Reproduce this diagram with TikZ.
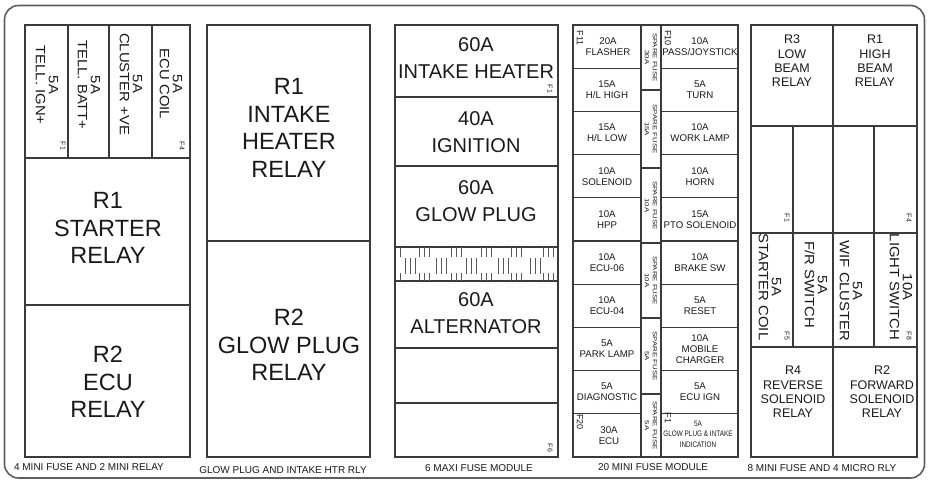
\documentclass[tikz,border=0pt]{standalone}
\usepackage{fontspec}
\setmainfont{Liberation Sans}
\newfontfamily\widefont[FakeStretch=1.3]{Liberation Sans}
\newfontfamily\fusefont[FakeStretch=1.1]{Liberation Sans}
\newfontfamily\condfont[FakeStretch=0.8]{Liberation Sans}
\definecolor{lncol}{HTML}{3A3A3A}
\definecolor{framecol}{HTML}{5E5E5E}
\definecolor{txt}{HTML}{1A1A1A}
\begin{document}
\begin{tikzpicture}[x=1pt,y=-1pt,
  ln/.style={line width=1.1pt, draw=lncol},
  tick/.style={line width=0.9pt, draw=lncol!85},
  bigtxt/.style={font=\fontsize{23.5}{27.5}\selectfont, align=center, text=txt, inner sep=0pt},
  maxitxt/.style={font=\fontsize{20}{27}\selectfont, align=center, text=txt, inner sep=0pt},
  rfuse/.style={rotate=-90, font=\fusefont\fontsize{13.5}{13}\selectfont, align=center, text=txt, inner sep=0pt},
  minitxt/.style={font=\fontsize{9.7}{11}\selectfont, align=center, text=txt, inner sep=0pt},
  condtxt/.style={font=\condfont\fontsize{8}{10.5}\selectfont, align=center, text=txt, inner sep=0pt},
  sparetxt/.style={rotate=-90, font=\widefont\fontsize{6}{8}\selectfont, align=center, text=txt, inner sep=0pt},
  fnum/.style={rotate=-90, font=\fontsize{7}{8}\selectfont, text=txt, inner sep=0pt},
  fnumb/.style={rotate=-90, font=\fontsize{9}{10}\selectfont, text=txt, inner sep=0pt},
  reltxt/.style={font=\fontsize{12.5}{14.3}\selectfont, align=center, text=txt, inner sep=0pt},
  labtxt/.style={font=\fontsize{10}{12}\selectfont, text=txt, inner sep=0pt}
]
\useasboundingbox (0,0) rectangle (928,480);
\fill[white] (0,0) rectangle (928,480);
% outer frame
\draw[line width=1.6pt, draw=framecol, rounded corners=14pt] (4.5,5.5) rectangle (924.5,478);

% ---------- Panel 1 ----------
\draw[ln] (25,25) rectangle (190,457);
\draw[ln] (25,158) -- (190,158);
\draw[ln] (25,305) -- (190,305);
\foreach \x in {68,109,152} \draw[ln] (\x,25) -- (\x,158);
\node[rfuse] (a1) at (47,85) {5A\\TELL. IGN+};
\node[rfuse] (a2) at (89,85) {5A\\TELL. BATT+};
\node[rfuse] (a3) at (131,84) {5A\\CLUSTER +VE};
\node[rfuse] (a4) at (171,84) {5A\\ECU COIL};
\node[fnum] (af1) at (63,146) {F1};
\node[fnum] (af4) at (182,146) {F4};
\node[bigtxt] (ar1) at (108,228) {R1\\STARTER\\RELAY};
\node[bigtxt] (ar2) at (108,382) {R2\\ECU\\RELAY};
\node[labtxt] (alab) at (89,467) {4 MINI FUSE AND 2 MINI RELAY};

% ---------- Panel 2 ----------
\draw[ln] (207,25) rectangle (370,457);
\draw[ln] (207,241) -- (370,241);
\node[bigtxt] (br1) at (289,128) {R1\\INTAKE\\HEATER\\RELAY};
\node[bigtxt] (br2) at (289,345) {R2\\GLOW PLUG\\RELAY};
\node[labtxt] (blab) at (283,470) {GLOW PLUG AND INTAKE HTR RLY};

% ---------- Panel 3 ----------
\draw[ln] (395,25) rectangle (558,457);
\foreach \y in {97,166,247,281,348,403} \draw[ln] (395,\y) -- (558,\y);
\foreach \x in {400} {\draw[tick] (\x,247) -- (\x,257); \draw[tick] (\x,273) -- (\x,281);}
\foreach \g in {419.3,451.7,481.7,511.7,543.3} \foreach \d in {0,5,10} {
  \draw[tick] (\g+\d,247) -- (\g+\d,257);
  \draw[tick] (\g+\d,273) -- (\g+\d,281);}
\foreach \g in {405,436.7,466.7,498.3,530} \foreach \d in {0,5,10}
  \draw[tick] (\g+\d,258) -- (\g+\d,274);
\node[maxitxt] (c1) at (476,58) {60A\\INTAKE HEATER};
\node[maxitxt] (c2) at (476,132) {40A\\IGNITION};
\node[maxitxt] (c3) at (476,201) {60A\\GLOW PLUG};
\node[maxitxt] (c4) at (476,313) {60A\\ALTERNATOR};
\node[fnum] (cf1) at (550,89) {F1};
\node[fnum] (cf6) at (550,448) {F6};
\node[labtxt] (clab) at (479,468) {6 MAXI FUSE MODULE};

% ---------- Panel 4 ----------
\draw[ln] (573,25) rectangle (738,457);
\draw[ln] (641,25) -- (641,457);
\draw[ln] (661,25) -- (661,457);
\foreach \k in {1,...,9} {
  \draw[ln] (573,25+43.2*\k) -- (641,25+43.2*\k);
  \draw[ln] (661,25+43.2*\k) -- (738,25+43.2*\k);}
\foreach \y in {90,168,243,318,394} \draw[ln] (641,\y) -- (661,\y);
% left column
\node[minitxt] (l1) at (608,46.6) {20A\\FLASHER};
\node[minitxt] (l2) at (607,89.8) {15A\\H/L HIGH};
\node[minitxt] (l3) at (607,133) {15A\\H/L LOW};
\node[minitxt] (l4) at (607,176.2) {10A\\SOLENOID};
\node[minitxt] (l5) at (607,219.4) {10A\\HPP};
\node[minitxt] (l6) at (607,262.6) {10A\\ECU-06};
\node[minitxt] (l7) at (607,305.8) {10A\\ECU-04};
\node[minitxt] (l8) at (607,349) {5A\\PARK LAMP};
\node[minitxt] (l9) at (607,392.2) {5A\\DIAGNOSTIC};
\node[minitxt] (l10) at (609,435.4) {30A\\ECU};
% right column
\node[minitxt] (r1) at (700,46.6) {10A\\PASS/JOYSTICK};
\node[minitxt] (r2) at (700,89.8) {5A\\TURN};
\node[minitxt] (r3) at (700,133) {10A\\WORK LAMP};
\node[minitxt] (r4) at (700,176.2) {10A\\HORN};
\node[minitxt] (r5) at (700,219.4) {15A\\PTO SOLENOID};
\node[minitxt] (r6) at (700,262.6) {10A\\BRAKE SW};
\node[minitxt] (r7) at (700,305.8) {5A\\RESET};
\node[minitxt] (r8) at (700,349) {10A\\MOBILE\\CHARGER};
\node[minitxt] (r9) at (700,392.2) {5A\\ECU IGN};
\node[condtxt] (r10) at (698,434) {5A\\GLOW PLUG \& INTAKE\\INDICATION};
% spare column
\node[sparetxt] (s1) at (651,57.5) {SPARE FUSE\\30A};
\node[sparetxt] (s2) at (651,129) {SPARE FUSE\\15A};
\node[sparetxt] (s3) at (651,205.5) {SPARE FUSE\\10A};
\node[sparetxt] (s4) at (651,280.5) {SPARE FUSE\\10A};
\node[sparetxt] (s5) at (651,356) {SPARE FUSE\\5A};
\node[sparetxt] (s6) at (651,425.5) {SPARE FUSE\\5A};
\node[fnumb] (df11) at (580,38) {F11};
\node[fnumb] (df10) at (668,38) {F10};
\node[fnumb] (df20) at (580,422) {F20};
\node[fnumb] (df1) at (668,418) {F1};
\node[labtxt] (dlab) at (653,467) {20 MINI FUSE MODULE};

% ---------- Panel 5 ----------
\draw[ln] (751,25) rectangle (917,457);
\draw[ln] (833,25) -- (833,457);
\foreach \y in {126,233,347} \draw[ln] (751,\y) -- (917,\y);
\foreach \x in {793,874} \draw[ln] (\x,126) -- (\x,347);
\node[reltxt] (e1) at (792,61) {R3\\LOW\\BEAM\\RELAY};
\node[reltxt] (e2) at (875,61) {R1\\HIGH\\BEAM\\RELAY};
\node[rfuse] (e3) at (770,287) {5A\\STARTER COIL};
\node[rfuse] (e4) at (816,285) {5A\\F/R SWITCH};
\node[rfuse] (e5) at (851,291) {5A\\WIF CLUSTER};
\node[rfuse] (e6) at (901,287) {10A\\LIGHT SWITCH};
\node[fnum] (ef1) at (787,218) {F1};
\node[fnum] (ef4) at (909,218) {F4};
\node[fnum] (ef5) at (787,336) {F5};
\node[fnum] (ef8) at (909,336) {F8};
\node[reltxt] (e7) at (793,392) {R4\\REVERSE\\SOLENOID\\RELAY};
\node[reltxt] (e8) at (882,392) {R2\\FORWARD\\SOLENOID\\RELAY};
\node[labtxt] (elab) at (822,468) {8 MINI FUSE AND 4 MICRO RLY};
\end{tikzpicture}
\end{document}
